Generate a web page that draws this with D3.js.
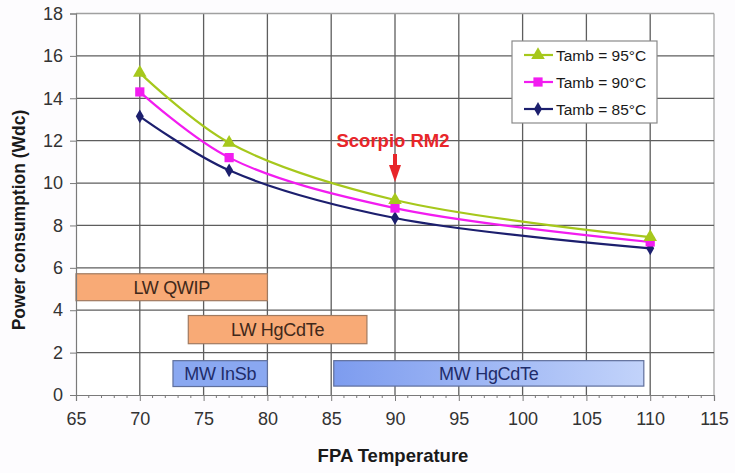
<!DOCTYPE html>
<html>
<head>
<meta charset="utf-8">
<script src="https://cdn.jsdelivr.net/npm/d3@7"></script>
<style>
  html, body { margin: 0; padding: 0; background: #fdfcfe; }
  svg { display: block; font-family: Arial, "Liberation Sans", sans-serif; }
</style>
</head>
<body>
<svg id="chart" width="735" height="473"></svg>
<script>
// FPA temperatures (x) where the cooler power was evaluated
const fpaTemps = [70, 77, 90, 110];

// Power consumption (Wdc) for each ambient temperature
const seriesNames = ["Tamb = 95°C", "Tamb = 90°C", "Tamb = 85°C"];
const tamb95 = [15.2, 11.9, 9.2, 7.45];
const tamb90 = [14.3, 11.2, 8.82, 7.22];
const tamb85 = [13.15, 10.6, 8.35, 6.92];
const seriesColors = ["#a6c81c", "#f21cf0", "#1c1f6e"];
const seriesMarkers = ["triangle", "square", "diamond"];

// Detector technology operating ranges (x from/to, y from/to)
const bandNames = ["LW QWIP", "LW HgCdTe", "MW InSb", "MW HgCdTe"];
const bandX0 = [65, 73.8, 72.6, 85.2];
const bandX1 = [80, 87.8, 80, 109.5];
const bandY0 = [4.45, 2.42, 0.4, 0.42];
const bandY1 = [5.72, 3.75, 1.62, 1.62];
const bandKind = ["lw", "lw", "mw", "mw"];

// Axis ticks
const xTicks = [65, 70, 75, 80, 85, 90, 95, 100, 105, 110, 115];
const yTicks = [0, 2, 4, 6, 8, 10, 12, 14, 16, 18];

const svg = d3.select("#chart");
const x = d3.scaleLinear().domain([65, 115]).range([76, 714]);
const y = d3.scaleLinear().domain([0, 18]).range([395, 13.5]);

const defs = svg.append("defs");
const grad = defs.append("linearGradient").attr("id", "mwGrad")
  .attr("x1", "0%").attr("x2", "100%").attr("y1", "0%").attr("y2", "0%");
grad.append("stop").attr("offset", "0%").attr("stop-color", "#7d9cef");
grad.append("stop").attr("offset", "100%").attr("stop-color", "#c2d3fa");

// Plot background
svg.append("rect").attr("x", x(65)).attr("y", y(18))
  .attr("width", x(115) - x(65)).attr("height", y(0) - y(18))
  .attr("fill", "#ffffff");

// Grid
const gridColor = "#5e5e5e";
svg.append("g").selectAll("line").data(xTicks.slice(1)).join("line")
  .attr("x1", d => x(d)).attr("x2", d => x(d))
  .attr("y1", y(0)).attr("y2", y(18))
  .attr("stroke", d => d === 115 ? "#a8a8a8" : gridColor).attr("stroke-width", 1.3);
svg.append("g").selectAll("line").data(yTicks.slice(1)).join("line")
  .attr("x1", x(65)).attr("x2", x(115))
  .attr("y1", d => y(d)).attr("y2", d => y(d))
  .attr("stroke", d => d === 18 ? "#a0a0a0" : gridColor).attr("stroke-width", 1.3);

// Technology bands
const bands = svg.append("g");
bandNames.forEach((name, i) => {
  const lw = bandKind[i] === "lw";
  bands.append("rect")
    .attr("x", x(bandX0[i])).attr("y", y(bandY1[i]))
    .attr("width", x(bandX1[i]) - x(bandX0[i]))
    .attr("height", y(bandY0[i]) - y(bandY1[i]))
    .attr("fill", lw ? "#f8aa76" : (name === "MW InSb" ? "#8aa8f1" : "url(#mwGrad)"))
    .attr("stroke", lw ? "#a07a60" : "#5f6f9c").attr("stroke-width", 1.2);
  bands.append("text")
    .attr("x", (x(bandX0[i]) + x(bandX1[i])) / 2)
    .attr("y", (y(bandY0[i]) + y(bandY1[i])) / 2)
    .attr("dy", "0.36em").attr("text-anchor", "middle")
    .attr("font-size", 18).attr("letter-spacing", -0.3)
    .attr("fill", lw ? "#40281a" : "#1f2c6a")
    .text(name);
});

// Axes
const xAxis = d3.axisBottom(x).tickValues(xTicks).tickSize(6).tickPadding(11).tickFormat(d3.format("d"));
const gx = svg.append("g").attr("transform", `translate(0,${y(0)})`).call(xAxis);
gx.select(".domain").attr("stroke", "#7a7a7a").attr("stroke-width", 1.2);
gx.selectAll(".tick line").attr("stroke", "#7a7a7a");
gx.selectAll("text").attr("font-size", 18).attr("fill", "#333").attr("font-family", "Arial, 'Liberation Sans', sans-serif");
// minor ticks every degree
const minor = d3.range(66, 115).filter(v => v % 5 !== 0);
svg.append("g").selectAll("line").data(minor).join("line")
  .attr("x1", d => x(d)).attr("x2", d => x(d))
  .attr("y1", y(0)).attr("y2", y(0) + 3)
  .attr("stroke", "#7a7a7a").attr("stroke-width", 1);

const yAxis = d3.axisLeft(y).tickValues(yTicks).tickSize(6).tickPadding(7);
const gy = svg.append("g").attr("transform", `translate(${x(65)},0)`).call(yAxis);
gy.select(".domain").attr("stroke", "#7a7a7a").attr("stroke-width", 1.2);
gy.selectAll(".tick line").attr("stroke", "#7a7a7a");
gy.selectAll("text").attr("font-size", 18).attr("fill", "#333").attr("font-family", "Arial, 'Liberation Sans', sans-serif");

// Axis titles
svg.append("text").attr("x", 393).attr("y", 462).attr("text-anchor", "middle")
  .attr("font-size", 18.5).attr("font-weight", "bold").attr("fill", "#1a1a1a")
  .text("FPA Temperature");
svg.append("text").attr("transform", "translate(25,220) rotate(-90)").attr("text-anchor", "middle")
  .attr("font-size", 17.5).attr("font-weight", "bold").attr("fill", "#1a1a1a")
  .text("Power consumption (Wdc)");

// Series
const allSeries = [tamb95, tamb90, tamb85];
const line = d3.line().x((d, i) => x(fpaTemps[i])).y(d => y(d)).curve(d3.curveCatmullRom.alpha(0.5));
const symbolType = { triangle: d3.symbolTriangle, square: d3.symbolSquare, diamond: d3.symbolDiamond };
const symbolSize = { triangle: 80, square: 85, diamond: 55 };

// draw bottom series first so the warmer ones sit above
[2, 1, 0].forEach(s => {
  const vals = allSeries[s];
  svg.append("path").datum(vals).attr("d", line)
    .attr("fill", "none").attr("stroke", seriesColors[s]).attr("stroke-width", 2.2);
  svg.append("g").selectAll("path").data(vals).join("path")
    .attr("transform", (d, i) => `translate(${x(fpaTemps[i])},${y(d)})`)
    .attr("d", d3.symbol().type(symbolType[seriesMarkers[s]]).size(symbolSize[seriesMarkers[s]]))
    .attr("fill", seriesColors[s]);
});

// Scorpio RM2 annotation
const ann = svg.append("g").attr("fill", "#e8262a");
ann.append("text").attr("x", x(90) - 2).attr("y", 147).attr("text-anchor", "middle")
  .attr("font-size", 18.5).attr("font-weight", "bold").text("Scorpio RM2");
ann.append("rect").attr("x", x(90) - 2).attr("y", 154).attr("width", 4).attr("height", 12);
ann.append("path").attr("d", `M${x(90) - 6},165 L${x(90) + 6},165 L${x(90)},182 Z`);

// Legend
const lg = svg.append("g");
lg.append("rect").attr("x", 512).attr("y", 41).attr("width", 145).attr("height", 82)
  .attr("fill", "#ffffff").attr("stroke", "#8a8a8a").attr("stroke-width", 1.2);
seriesNames.forEach((name, s) => {
  const cy = 55 + s * 27;
  lg.append("line").attr("x1", 524).attr("x2", 553).attr("y1", cy).attr("y2", cy)
    .attr("stroke", seriesColors[s]).attr("stroke-width", 2.2);
  lg.append("path").attr("transform", `translate(538,${cy})`)
    .attr("d", d3.symbol().type(symbolType[seriesMarkers[s]]).size(symbolSize[seriesMarkers[s]]))
    .attr("fill", seriesColors[s]);
  lg.append("text").attr("x", 556).attr("y", cy).attr("dy", "0.36em")
    .attr("font-size", 15.5).attr("fill", "#1a1a1a").text(name);
});
</script>
</body>
</html>
